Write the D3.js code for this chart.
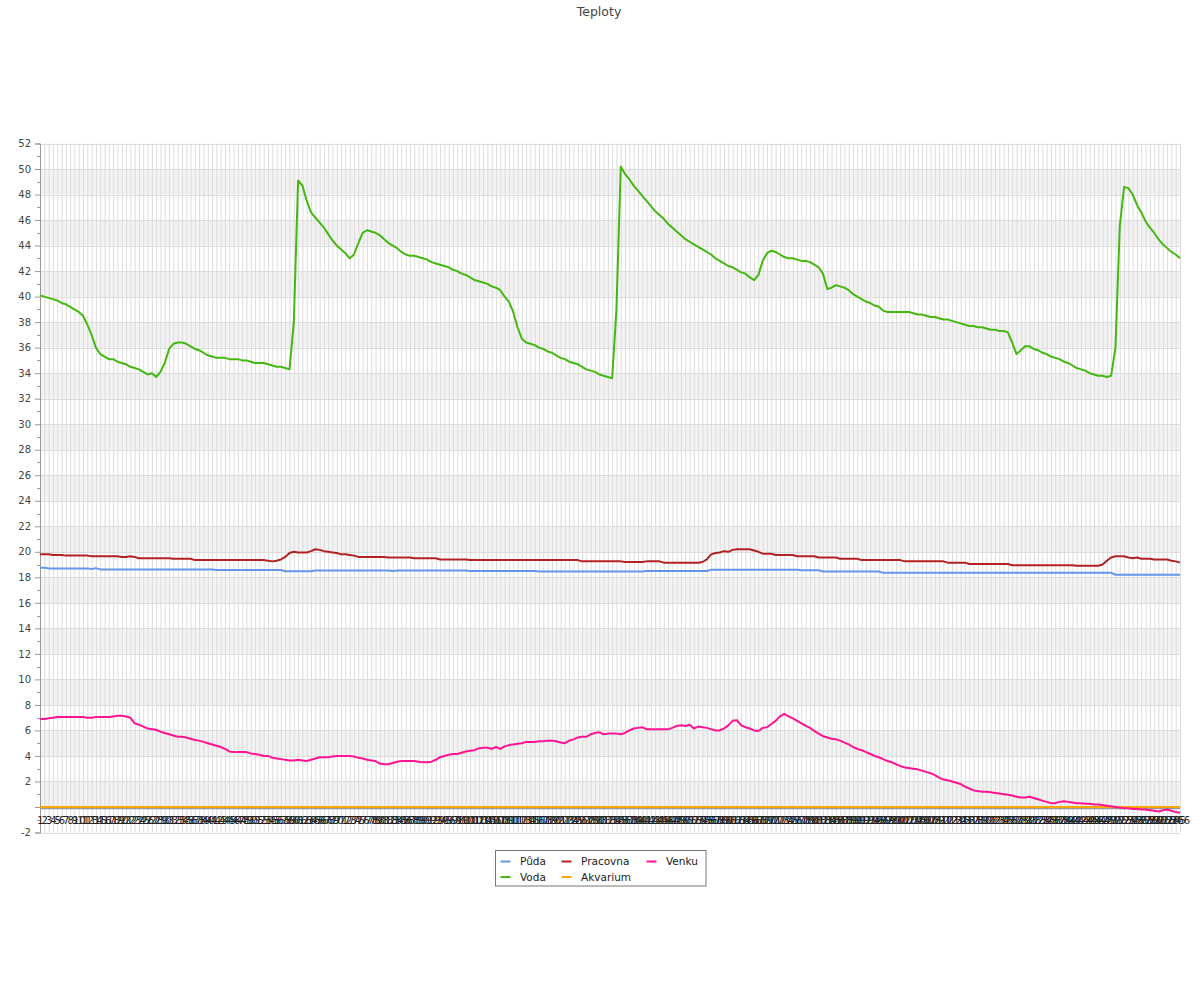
<!DOCTYPE html>
<html>
<head>
<meta charset="utf-8">
<script src="https://cdn.jsdelivr.net/npm/d3@7"></script>
<style>
  html, body { margin: 0; padding: 0; background: #fff; }
  svg { display: block; font-family: "DejaVu Sans", sans-serif; }
</style>
</head>
<body>
<svg id="chart" width="1200" height="1000"></svg>
<script>
// ---------- DATA ----------
const title = "Teploty";
const categories = d3.range(1, 267).map(String); // 1 .. 266
const yTickValues = [-2, 0, 2, 4, 6, 8, 10, 12, 14, 16, 18, 20, 22, 24, 26, 28, 30, 32, 34, 36, 38, 40, 42, 44, 46, 48, 50, 52];
const yTickLabels = ["-2", "", "2", "4", "6", "8", "10", "12", "14", "16", "18", "20", "22", "24", "26", "28", "30", "32", "34", "36", "38", "40", "42", "44", "46", "48", "50", "52"];
const seriesNames = ["Půda", "Voda", "Pracovna", "Akvarium", "Venku"];
const seriesColors = ["#6495ed", "#44b811", "#b22222", "#ffa500", "#ff1493"];

const puda = [
18.75,18.75,18.7,18.7,18.7,18.7,18.7,18.7,18.7,18.7,
18.7,18.7,18.65,18.72,18.62,18.62,18.62,18.62,18.62,18.62,
18.62,18.62,18.62,18.62,18.62,18.62,18.62,18.62,18.62,18.62,
18.62,18.62,18.62,18.62,18.62,18.62,18.62,18.62,18.62,18.62,
18.62,18.57,18.57,18.57,18.57,18.57,18.57,18.57,18.57,18.57,
18.57,18.57,18.57,18.57,18.57,18.57,18.57,18.48,18.48,18.48,
18.48,18.48,18.48,18.48,18.53,18.53,18.53,18.53,18.53,18.53,
18.53,18.53,18.53,18.53,18.53,18.53,18.53,18.53,18.53,18.53,
18.53,18.53,18.5,18.53,18.53,18.53,18.53,18.53,18.53,18.53,
18.53,18.53,18.53,18.53,18.53,18.53,18.53,18.53,18.53,18.53,
18.5,18.5,18.5,18.5,18.5,18.5,18.5,18.5,18.5,18.5,
18.5,18.5,18.5,18.5,18.5,18.5,18.45,18.45,18.45,18.45,
18.45,18.45,18.45,18.45,18.45,18.45,18.45,18.45,18.45,18.45,
18.45,18.45,18.45,18.45,18.45,18.45,18.45,18.45,18.45,18.45,
18.45,18.5,18.5,18.5,18.5,18.5,18.5,18.5,18.5,18.5,
18.5,18.5,18.5,18.5,18.5,18.5,18.6,18.6,18.6,18.6,
18.6,18.6,18.6,18.6,18.6,18.6,18.6,18.6,18.6,18.6,
18.6,18.6,18.6,18.6,18.6,18.6,18.6,18.55,18.55,18.55,
18.55,18.55,18.45,18.45,18.45,18.45,18.45,18.45,18.45,18.45,
18.45,18.45,18.45,18.45,18.45,18.45,18.35,18.35,18.35,18.35,
18.35,18.35,18.35,18.35,18.35,18.35,18.35,18.35,18.35,18.35,
18.35,18.35,18.35,18.35,18.35,18.35,18.35,18.35,18.35,18.35,
18.35,18.35,18.35,18.35,18.35,18.35,18.35,18.35,18.35,18.35,
18.35,18.35,18.35,18.35,18.35,18.35,18.35,18.35,18.35,18.35,
18.35,18.35,18.35,18.35,18.35,18.35,18.35,18.35,18.35,18.35,
18.2,18.2,18.2,18.2,18.2,18.2,18.2,18.2,18.2,18.2,
18.2,18.2,18.2,18.2,18.2,18.2
];

const voda = [
40.1,40.0,39.9,39.8,39.7,39.5,39.4,39.2,39.0,38.8,
38.5,37.8,37.0,36.0,35.5,35.3,35.1,35.1,34.9,34.8,
34.7,34.5,34.4,34.3,34.1,33.9,34.0,33.7,34.1,34.8,
35.9,36.3,36.4,36.4,36.3,36.1,35.9,35.8,35.6,35.4,
35.3,35.2,35.2,35.2,35.1,35.1,35.1,35.0,35.0,34.9,
34.8,34.8,34.8,34.7,34.6,34.5,34.5,34.4,34.3,38.0,
49.1,48.7,47.5,46.6,46.2,45.8,45.4,44.9,44.4,44.0,
43.7,43.4,43.0,43.3,44.2,45.0,45.2,45.1,45.0,44.8,
44.5,44.2,44.0,43.8,43.5,43.3,43.2,43.2,43.1,43.0,
42.9,42.7,42.6,42.5,42.4,42.3,42.1,42.0,41.8,41.7,
41.5,41.3,41.2,41.1,41.0,40.8,40.7,40.5,40.0,39.6,
38.8,37.6,36.7,36.4,36.3,36.2,36.0,35.9,35.7,35.6,
35.4,35.2,35.1,34.9,34.8,34.7,34.5,34.3,34.2,34.1,
33.9,33.8,33.7,33.6,39.0,50.2,49.6,49.2,48.7,48.3,
47.9,47.5,47.1,46.7,46.4,46.1,45.7,45.4,45.1,44.8,
44.5,44.3,44.1,43.9,43.7,43.5,43.3,43.0,42.8,42.6,
42.4,42.3,42.1,41.9,41.8,41.5,41.3,41.7,42.8,43.4,
43.6,43.5,43.3,43.1,43.0,43.0,42.9,42.8,42.8,42.7,
42.5,42.3,41.8,40.6,40.7,40.9,40.8,40.7,40.5,40.2,
40.0,39.8,39.6,39.5,39.3,39.2,38.9,38.8,38.8,38.8,
38.8,38.8,38.8,38.7,38.6,38.6,38.5,38.4,38.4,38.3,
38.2,38.2,38.1,38.0,37.9,37.8,37.7,37.7,37.6,37.6,
37.5,37.4,37.4,37.3,37.3,37.2,36.4,35.5,35.8,36.1,
36.1,35.9,35.8,35.6,35.5,35.3,35.2,35.1,34.9,34.8,
34.6,34.4,34.3,34.2,34.0,33.9,33.8,33.8,33.7,33.8,
36.0,45.5,48.6,48.5,48.0,47.2,46.6,45.9,45.4,45.0,
44.5,44.1,43.8,43.5,43.3,43.0
];

const pracovna = [
19.8,19.8,19.8,19.75,19.75,19.75,19.7,19.7,19.7,19.7,
19.7,19.7,19.65,19.65,19.65,19.65,19.65,19.65,19.65,19.6,
19.6,19.65,19.6,19.5,19.5,19.5,19.5,19.5,19.5,19.5,
19.5,19.45,19.45,19.45,19.45,19.45,19.35,19.35,19.35,19.35,
19.35,19.35,19.35,19.35,19.35,19.35,19.35,19.35,19.35,19.35,
19.35,19.35,19.35,19.3,19.25,19.3,19.4,19.6,19.9,20.0,
19.95,19.95,19.95,20.05,20.2,20.15,20.05,20.0,19.95,19.9,
19.8,19.8,19.75,19.7,19.6,19.6,19.6,19.6,19.6,19.6,
19.6,19.55,19.55,19.55,19.55,19.55,19.55,19.5,19.5,19.5,
19.5,19.5,19.5,19.4,19.4,19.4,19.4,19.4,19.4,19.4,
19.35,19.35,19.35,19.35,19.35,19.35,19.35,19.35,19.35,19.35,
19.35,19.35,19.35,19.35,19.35,19.35,19.35,19.35,19.35,19.35,
19.35,19.35,19.35,19.35,19.35,19.35,19.25,19.25,19.25,19.25,
19.25,19.25,19.25,19.25,19.25,19.25,19.2,19.2,19.2,19.2,
19.2,19.25,19.25,19.25,19.25,19.15,19.15,19.15,19.15,19.15,
19.15,19.15,19.15,19.15,19.2,19.4,19.8,19.9,19.95,20.05,
20.0,20.15,20.2,20.2,20.2,20.2,20.1,20.0,19.85,19.85,
19.85,19.75,19.75,19.75,19.75,19.75,19.65,19.65,19.65,19.65,
19.65,19.55,19.55,19.55,19.55,19.55,19.45,19.45,19.45,19.45,
19.45,19.35,19.35,19.35,19.35,19.35,19.35,19.35,19.35,19.35,
19.35,19.25,19.25,19.25,19.25,19.25,19.25,19.25,19.25,19.25,
19.25,19.15,19.15,19.15,19.15,19.15,19.05,19.05,19.05,19.05,
19.05,19.05,19.05,19.05,19.05,19.05,18.95,18.95,18.95,18.95,
18.95,18.95,18.95,18.95,18.95,18.95,18.95,18.95,18.95,18.95,
18.95,18.9,18.9,18.9,18.9,18.9,18.9,19.0,19.3,19.55,
19.65,19.65,19.65,19.55,19.5,19.55,19.45,19.45,19.45,19.4,
19.4,19.4,19.4,19.3,19.25,19.15
];

const akvarium = [
0,0,0,0,0,0,0,0,0,0, 0,0,0,0,0,0,0,0,0,0, 0,0,0,0,0,0,0,0,0,0,
0,0,0,0,0,0,0,0,0,0, 0,0,0,0,0,0,0,0,0,0, 0,0,0,0,0,0,0,0,0,0,
0,0,0,0,0,0,0,0,0,0, 0,0,0,0,0,0,0,0,0,0, 0,0,0,0,0,0,0,0,0,0,
0,0,0,0,0,0,0,0,0,0, 0,0,0,0,0,0,0,0,0,0, 0,0,0,0,0,0,0,0,0,0,
0,0,0,0,0,0,0,0,0,0, 0,0,0,0,0,0,0,0,0,0, 0,0,0,0,0,0,0,0,0,0,
0,0,0,0,0,0,0,0,0,0, 0,0,0,0,0,0,0,0,0,0, 0,0,0,0,0,0,0,0,0,0,
0,0,0,0,0,0,0,0,0,0, 0,0,0,0,0,0,0,0,0,0, 0,0,0,0,0,0,0,0,0,0,
0,0,0,0,0,0,0,0,0,0, 0,0,0,0,0,0,0,0,0,0, 0,0,0,0,0,0,0,0,0,0,
0,0,0,0,0,0,0,0,0,0, 0,0,0,0,0,0,0,0,0,0,
0,0,0,0,0,0
];

const venku = [
6.9,6.9,6.95,7.0,7.05,7.05,7.05,7.05,7.05,7.05,
7.05,7.0,7.0,7.05,7.05,7.05,7.05,7.1,7.15,7.15,
7.1,7.0,6.55,6.45,6.3,6.15,6.1,6.05,5.9,5.8,
5.7,5.6,5.5,5.5,5.45,5.35,5.25,5.2,5.1,5.0,
4.9,4.8,4.7,4.55,4.35,4.3,4.3,4.3,4.3,4.2,
4.15,4.1,4.0,4.0,3.85,3.8,3.75,3.7,3.65,3.65,
3.7,3.65,3.6,3.7,3.8,3.9,3.9,3.9,3.95,4.0,
4.0,4.0,4.0,3.95,3.85,3.8,3.7,3.65,3.6,3.4,
3.35,3.35,3.45,3.55,3.6,3.6,3.6,3.6,3.55,3.5,
3.5,3.55,3.7,3.9,4.0,4.1,4.15,4.15,4.25,4.35,
4.4,4.45,4.6,4.65,4.65,4.55,4.7,4.55,4.75,4.85,
4.9,4.95,5.0,5.1,5.1,5.1,5.15,5.15,5.2,5.2,
5.15,5.05,5.0,5.2,5.3,5.45,5.5,5.5,5.7,5.8,
5.85,5.7,5.75,5.75,5.75,5.7,5.8,6.0,6.15,6.2,
6.25,6.1,6.1,6.1,6.1,6.1,6.1,6.2,6.35,6.4,
6.35,6.45,6.15,6.3,6.25,6.2,6.1,6.0,6.0,6.15,
6.4,6.75,6.8,6.4,6.25,6.15,6.0,5.95,6.2,6.25,
6.5,6.75,7.1,7.3,7.1,6.95,6.75,6.55,6.35,6.2,
5.95,5.75,5.55,5.45,5.35,5.3,5.2,5.05,4.9,4.7,
4.55,4.45,4.3,4.15,4.0,3.9,3.75,3.6,3.5,3.35,
3.2,3.1,3.05,3.0,2.95,2.85,2.75,2.65,2.5,2.3,
2.15,2.1,2.0,1.9,1.8,1.6,1.45,1.3,1.25,1.2,
1.2,1.15,1.1,1.05,1.0,0.95,0.9,0.8,0.75,0.75,
0.8,0.7,0.6,0.5,0.4,0.3,0.3,0.4,0.45,0.4,
0.35,0.3,0.3,0.25,0.25,0.2,0.2,0.15,0.1,0.05,
0.0,-0.05,-0.1,-0.1,-0.15,-0.15,-0.2,-0.2,-0.25,-0.3,
-0.35,-0.25,-0.2,-0.3,-0.4,-0.45
];

const seriesValues = [puda, voda, pracovna, akvarium, venku];

// ---------- LAYOUT ----------
const svg = d3.select("#chart");
const plot = { left: 40, right: 1180, top: 143.5, bottom: 832.5 };

const x = d3.scalePoint().domain(categories).range([plot.left, plot.right]);
const y = d3.scaleLinear().domain([-2, 52]).range([plot.bottom, plot.top]);

// title
svg.append("text")
  .attr("x", 599).attr("y", 15.5)
  .attr("text-anchor", "middle")
  .attr("font-size", 12.5)
  .attr("fill", "#444")
  .text(title);

// alternating bands
const bandStarts = yTickValues.filter(v => v >= 0 && v < 52 && v % 4 === 0);
svg.append("g").selectAll("rect").data(bandStarts).join("rect")
  .attr("x", plot.left).attr("width", plot.right - plot.left)
  .attr("y", d => y(d + 2)).attr("height", d => y(d) - y(d + 2))
  .attr("fill", "#f2f2f2");

// vertical grid
svg.append("g").selectAll("line").data(categories).join("line")
  .attr("x1", d => x(d) + 0.5).attr("x2", d => x(d) + 0.5)
  .attr("y1", plot.top).attr("y2", plot.bottom)
  .attr("stroke", "#dcdcdc").attr("stroke-width", 1);

// horizontal grid
svg.append("g").selectAll("line").data(yTickValues).join("line")
  .attr("x1", plot.left).attr("x2", plot.right)
  .attr("y1", d => Math.round(y(d)) + 0.5).attr("y2", d => Math.round(y(d)) + 0.5)
  .attr("stroke", "#dcdcdc").attr("stroke-width", 1);

// y axis
const yAxis = d3.axisLeft(y)
  .tickValues(yTickValues)
  .tickSize(5)
  .tickFormat((d, i) => yTickLabels[i]);
const gy = svg.append("g").attr("transform", `translate(${plot.left},0)`).call(yAxis);
gy.select(".domain").attr("stroke", "#999");
gy.selectAll(".tick line").attr("stroke", "#999");
gy.selectAll(".tick text").attr("fill", "#444").attr("font-size", 10)
  .attr("font-family", "DejaVu Sans, sans-serif").attr("x", -9);

// minor ticks at odd values
const minor = d3.range(-1, 52, 2);
svg.append("g").selectAll("line").data(minor).join("line")
  .attr("x1", plot.left - 3).attr("x2", plot.left)
  .attr("y1", d => Math.round(y(d)) + 0.5).attr("y2", d => Math.round(y(d)) + 0.5)
  .attr("stroke", "#999");

// x axis labels
const xAxis = d3.axisBottom(x).tickSize(0).tickPadding(0);
const gx = svg.append("g").attr("transform", `translate(0,${y(0) + 10})`).call(xAxis);
gx.select(".domain").remove();
gx.selectAll(".tick text").attr("fill", "#222").attr("font-size", 10)
  .attr("font-family", "DejaVu Sans, sans-serif").attr("dy", "0.71em");

// lines
const line = d3.line().x((d, i) => x(categories[i])).y(d => y(d));
const lineLayer = svg.append("g");
seriesValues.forEach((vals, i) => {
  if (i === 4) {
    // zero axis line sits over the Akvarium line, under Venku
    lineLayer.append("line")
      .attr("x1", plot.left).attr("x2", plot.right)
      .attr("y1", y(0) + 1.6).attr("y2", y(0) + 1.6)
      .attr("stroke", "#999").attr("stroke-width", 1.4);
  }
  lineLayer.append("path")
    .attr("d", line(vals))
    .attr("fill", "none")
    .attr("stroke", seriesColors[i])
    .attr("stroke-width", 2)
    .attr("stroke-linejoin", "round");
});

// legend
const legend = svg.append("g");
legend.append("rect")
  .attr("x", 495.5).attr("y", 850.5).attr("width", 210.5).attr("height", 35.5)
  .attr("fill", "#fff").attr("stroke", "#777").attr("stroke-width", 1);
const legendPos = [
  { sx: 500.5, tx: 520, y: 861.5 },
  { sx: 500.5, tx: 520, y: 877 },
  { sx: 561.5, tx: 581, y: 861.5 },
  { sx: 561.5, tx: 581, y: 877 },
  { sx: 646.5, tx: 666, y: 861.5 }
];
seriesNames.forEach((name, i) => {
  const p = legendPos[i];
  legend.append("line")
    .attr("x1", p.sx).attr("x2", p.sx + 10)
    .attr("y1", p.y).attr("y2", p.y)
    .attr("stroke", seriesColors[i]).attr("stroke-width", 2);
  legend.append("text")
    .attr("x", p.tx).attr("y", p.y + 3.5)
    .attr("font-size", 10.5).attr("fill", "#222")
    .text(name);
});
</script>
</body>
</html>
